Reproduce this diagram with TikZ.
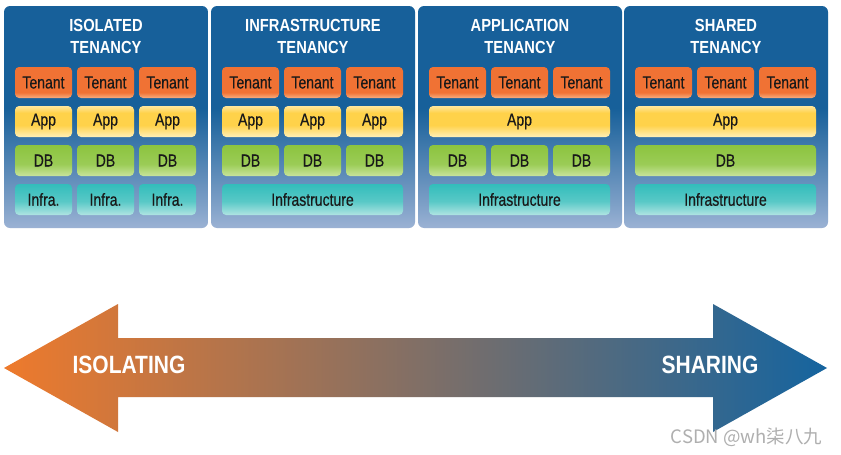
\documentclass[tikz,border=0pt]{standalone}
\usepackage{fontspec}
\setmainfont{Liberation Sans}
\newfontfamily\cond[FakeStretch=0.84]{Liberation Sans}
\newfontfamily\condm[FakeStretch=0.8,FakeBold=0.5]{Liberation Sans}
\newfontfamily\cjkfont{Noto Sans CJK SC}
\usetikzlibrary{shadings}
\definecolor{pbtop}{HTML}{17609A}
\definecolor{pbbot}{HTML}{9BB2D4}
\definecolor{tenA}{HTML}{F07234}
\definecolor{tenB}{HTML}{F7AE80}
\definecolor{appA}{HTML}{FFD24A}
\definecolor{appB}{HTML}{FFEFB8}
\definecolor{dbA}{HTML}{8CC43F}
\definecolor{dbB}{HTML}{C8E49C}
\definecolor{infA}{HTML}{33BDBB}
\definecolor{infB}{HTML}{B0E4E2}
\definecolor{arrL}{HTML}{EE7A2C}
\definecolor{arrR}{HTML}{15649F}
\definecolor{wm}{HTML}{AFAFAF}
% visible part of a shading fitted to a path: 25bp (bottom) .. 75bp (top)
\pgfdeclareverticalshading{panelsh}{100bp}{color(0bp)=(pbbot); color(25bp)=(pbbot); color(31bp)=(pbbot!75!pbtop); color(52bp)=(pbtop); color(100bp)=(pbtop)}
\pgfdeclareverticalshading{tensh}{100bp}{color(0bp)=(tenB); color(25bp)=(tenB); color(34bp)=(tenA); color(100bp)=(tenA)}
\pgfdeclareverticalshading{appsh}{100bp}{color(0bp)=(appB); color(25bp)=(appB); color(44bp)=(appA); color(64bp)=(appA); color(75bp)=(appA!55!white); color(100bp)=(appA!55!white)}
\pgfdeclareverticalshading{dbsh}{100bp}{color(0bp)=(dbB); color(25bp)=(dbB); color(44bp)=(dbA!75!dbB); color(75bp)=(dbA); color(100bp)=(dbA)}
\pgfdeclareverticalshading{infsh}{100bp}{color(0bp)=(infB); color(25bp)=(infB); color(47bp)=(infA!70!infB); color(75bp)=(infA); color(100bp)=(infA)}
\tikzset{
  panel/.style={shading=panelsh, rounded corners=6pt},
  tenbox/.style={shading=tensh, rounded corners=4pt},
  appbox/.style={shading=appsh, rounded corners=4pt},
  dbbox/.style={shading=dbsh, rounded corners=4pt},
  infbox/.style={shading=infsh, rounded corners=4pt},
  lbl/.style={font=\condm\fontsize{17.5}{18}\selectfont, text=black!90},
  ttl/.style={font=\cond\bfseries\fontsize{17.5}{18}\selectfont, text=white},
  big/.style={font=\cond\bfseries\fontsize{25}{25}\selectfont, text=white},
}
\begin{document}
\begin{tikzpicture}[x=1pt,y=-1pt]
\useasboundingbox[fill=white] (0,0) rectangle (841,455);
% panels
\foreach \px/\nm/\ta/\tb in {4/p1/ISOLATED/TENANCY, 211/p2/INFRASTRUCTURE/TENANCY, 418/p3/APPLICATION/TENANCY, 624/p4/SHARED/TENANCY}{
  \shade[panel] (\px,6) rectangle ++(204,222);
  \node[ttl] (\nm t1) at (\px+102,25) {\ta};
  \node[ttl] (\nm t2) at (\px+102,47.5) {\tb};
  \foreach \c in {0,1,2}{
    \shade[tenbox] (\px+11+62*\c,67) rectangle ++(57,31);
    \node[lbl] (\nm ten\c) at (\px+39.5+62*\c,82.5) {Tenant};
  }
}
% panel 1
\foreach \c in {0,1,2}{
  \shade[appbox] (4+11+62*\c,106) rectangle ++(57,31);
  \node[lbl] (p1app\c) at (4+39.5+62*\c,121.5) {App};
  \shade[dbbox] (4+11+62*\c,145) rectangle ++(57,31);
  \node[lbl] (p1db\c) at (4+39.5+62*\c,160.5) {DB};
  \shade[infbox] (4+11+62*\c,184) rectangle ++(57,31);
  \node[lbl] (p1inf\c) at (4+39.5+62*\c,199.5) {Infra.};
}
% panel 2
\foreach \c in {0,1,2}{
  \shade[appbox] (211+11+62*\c,106) rectangle ++(57,31);
  \node[lbl] (p2app\c) at (211+39.5+62*\c,121.5) {App};
  \shade[dbbox] (211+11+62*\c,145) rectangle ++(57,31);
  \node[lbl] (p2db\c) at (211+39.5+62*\c,160.5) {DB};
}
\shade[infbox] (222,184) rectangle ++(181,31);
\node[lbl] (p2inf) at (312.5,199.5) {Infrastructure};
% panel 3
\shade[appbox] (429,106) rectangle ++(181,31);
\node[lbl] (p3app) at (519.5,121.5) {App};
\foreach \c in {0,1,2}{
  \shade[dbbox] (418+11+62*\c,145) rectangle ++(57,31);
  \node[lbl] (p3db\c) at (418+39.5+62*\c,160.5) {DB};
}
\shade[infbox] (429,184) rectangle ++(181,31);
\node[lbl] (p3inf) at (519.5,199.5) {Infrastructure};
% panel 4
\shade[appbox] (635,106) rectangle ++(181,31);
\node[lbl] (p4app) at (725.5,121.5) {App};
\shade[dbbox] (635,145) rectangle ++(181,31);
\node[lbl] (p4db) at (725.5,160.5) {DB};
\shade[infbox] (635,184) rectangle ++(181,31);
\node[lbl] (p4inf) at (725.5,199.5) {Infrastructure};
% arrow
\shade[left color=arrL, right color=arrR]
  (4,368) -- (118,304) -- (118,338) -- (713,338) -- (713,304) -- (827,368)
  -- (713,432) -- (713,397) -- (118,397) -- (118,432) -- cycle;
\node[big] (iso) at (129,365) {ISOLATING};
\node[big] (sha) at (710,365) {SHARING};
% watermark
\node[font=\cjkfont\fontsize{18.5}{19}\selectfont, text=wm, anchor=east] (wmk) at (826,437) {CSDN @wh柒八九};
\end{tikzpicture}
\end{document}
